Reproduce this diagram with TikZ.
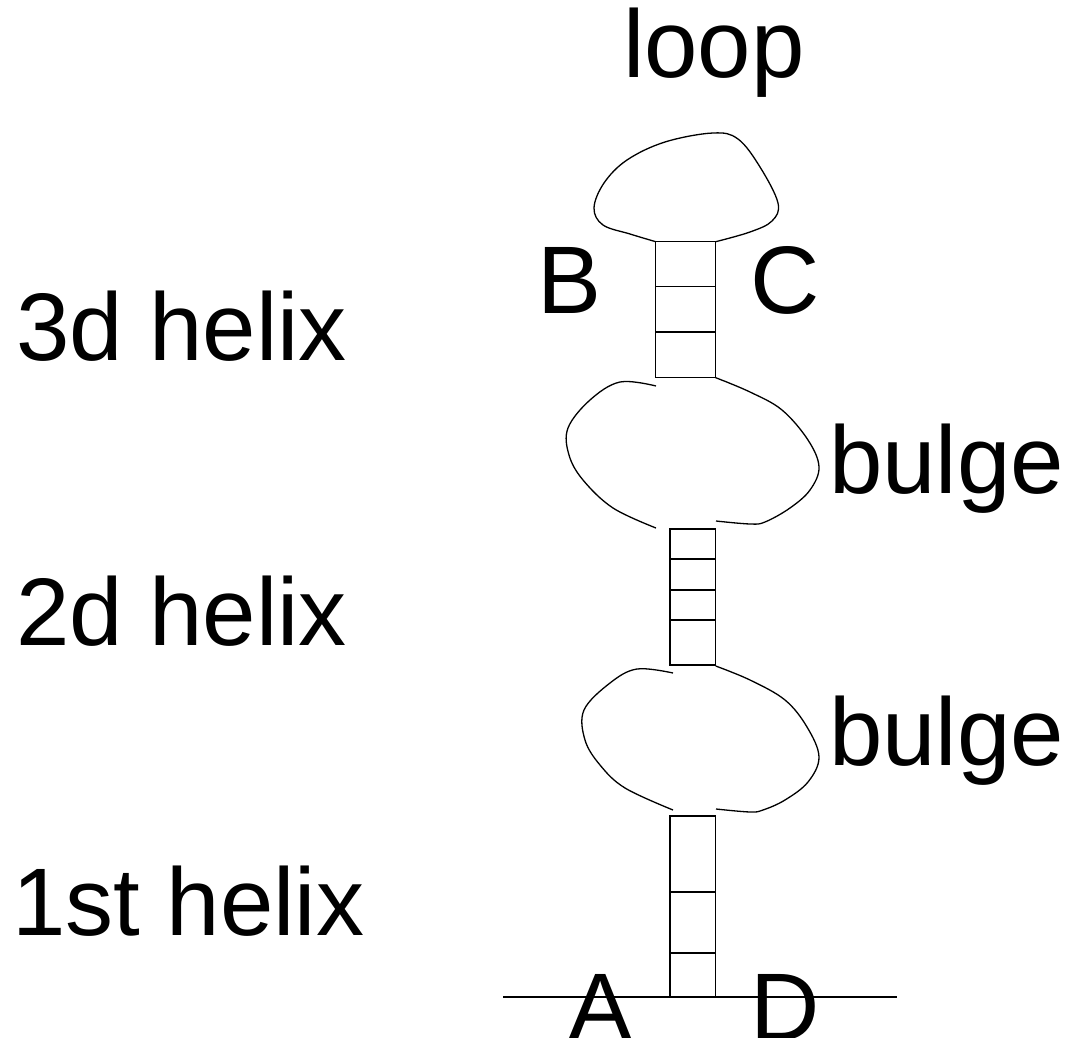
\documentclass[tikz,border=0pt]{standalone}
\usepackage{fontspec}
\setmainfont{Liberation Sans}
\begin{document}
\begin{tikzpicture}[x=1pt,y=-1pt,
  lbl/.style={inner sep=0pt,font=\fontsize{96}{100}\selectfont},
  stem/.style={draw,line width=1.3pt},
  curve/.style={draw,line width=1.3pt,smooth,tension=0.6}]
\useasboundingbox (0,0) rectangle (1066,1038);
% helices
\coordinate (h3a) at (655.7,241.7); \coordinate (h3b) at (715.7,377.7);
\draw[stem] (h3a) rectangle (h3b);
\draw[stem] (655.7,286.7) -- (715.7,286.7) (655.7,332) -- (715.7,332);
\coordinate (h2a) at (670,529); \coordinate (h2b) at (715.7,665);
\draw[stem] (h2a) rectangle (h2b);
\draw[stem] (670,559) -- (715.7,559) (670,590) -- (715.7,590) (670,620) -- (715.7,620);
\coordinate (h1a) at (670,816); \coordinate (h1b) at (715.7,997);
\draw[stem] (h1a) rectangle (h1b);
\draw[stem] (670,892) -- (715.7,892) (670,953) -- (715.7,953);
% baseline strand
\draw[stem] (503,997) -- (897,997);
% loop
\draw[curve] plot coordinates {(655.7,241.7) (630,234) (603,225) (594,208) (604,183) (627,160) (665,142) (713,133) (738,139) (760,167) (778,203) (772,221) (750,232) (715.7,241.7)};
% top bulge
\draw[curve] plot coordinates {(656,386) (620,382) (590,400) (568,428) (569,455) (583,480) (613,508) (656,528)};
\draw[curve] plot coordinates {(715.7,377.7) (750,392) (782,410) (808,440) (819,467) (810,490) (790,508) (765,522) (750,524) (716,521)};
% bottom bulge
\draw[curve] plot coordinates {(673,673) (637,669) (610,683) (584,710) (585,740) (600,765) (625,788) (673,810)};
\draw[curve] plot coordinates {(715.7,666) (750,680) (785,700) (807,727) (819,757) (808,782) (785,800) (763,810) (750,812) (716,809)};
% labels
\node[lbl,anchor=base] (loop) at (714,78) {loop};
\node[lbl,anchor=base] (B) at (570,313) {B};
\node[lbl,anchor=base] (C) at (785,313) {C};
\node[lbl,anchor=base] (A) at (601,1040) {A};
\node[lbl,anchor=base] (D) at (785,1040) {D};
\node[lbl,anchor=base west] (h3) at (16,360) {3d helix};
\node[lbl,anchor=base west] (h2) at (16,645) {2d helix};
\node[lbl,anchor=base west] (h1) at (12,935) {1st helix};
\node[lbl,anchor=base west] (bu1) at (829,493) {bulge};
\node[lbl,anchor=base west] (bu2) at (829,765) {bulge};
\end{tikzpicture}
\end{document}
